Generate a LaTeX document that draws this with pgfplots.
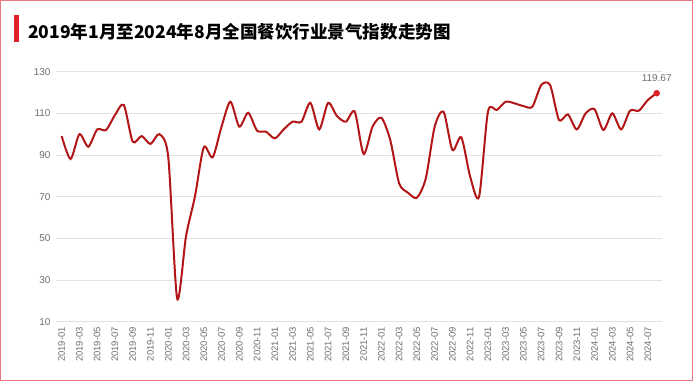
\documentclass[border=0pt]{standalone}
\usepackage{fontspec}
\setmainfont{Liberation Sans}
\newfontfamily\cjk{Noto Sans CJK SC}
\usepackage{pgfplots}
\pgfplotsset{compat=1.18}
\usetikzlibrary{calc}
\definecolor{linered}{RGB}{178,22,22}
\definecolor{barred}{RGB}{222,32,40}
\definecolor{framepink}{RGB}{232,120,130}
\definecolor{ticktext}{RGB}{110,110,110}
\definecolor{gridgray}{RGB}{226,226,226}
\begin{document}
\begin{tikzpicture}[x=1bp,y=1bp]
\begin{axis}[
  width=606bp, height=250bp, scale only axis,
  xmin=-0.64, xmax=67.6, ymin=10, ymax=130,
  ytick={10,30,...,130},
  xtick={0,2,...,66},
  xticklabels={2019-01,2019-03,2019-05,2019-07,2019-09,2019-11,2020-01,2020-03,2020-05,2020-07,2020-09,2020-11,2021-01,2021-03,2021-05,2021-07,2021-09,2021-11,2022-01,2022-03,2022-05,2022-07,2022-09,2022-11,2023-01,2023-03,2023-05,2023-07,2023-09,2023-11,2024-01,2024-03,2024-05,2024-07},
  x tick label style={rotate=90, anchor=east, font=\fontsize{9.5}{10}\selectfont, text=ticktext},
  y tick label style={font=\fontsize{10}{11}\selectfont, text=ticktext},
  /pgf/number format/assume math mode=true,
  ymajorgrids, grid style={gridgray, line width=0.8bp},
  axis line style={draw=none}, major tick style={draw=none},
  xticklabel shift=2bp, yticklabel shift=2bp,
  clip=false,
]
\coordinate (BL) at (rel axis cs:0,0);
\addplot[linered, line width=2bp, smooth, tension=0.45] coordinates {
(0,99.1) (1,88.1) (2,100) (3,94) (4,102.3) (5,102) (6,109.2) (7,114) (8,96.4) (9,99.1)
(10,95.3) (11,100) (12,89) (13,21.2) (14,51) (15,70) (16,93.7) (17,88.9) (18,103.6) (19,115.6)
(20,103.6) (21,110.3) (22,101.7) (23,101.2) (24,98) (25,102.3) (26,106) (27,106) (28,115.1) (29,102.3)
(30,115) (31,108.7) (32,106) (33,110.8) (34,90.5) (35,103.6) (36,107.9) (37,97.2) (38,76.4) (39,71.9)
(40,69.5) (41,78.8) (42,103.6) (43,110.8) (44,92.4) (45,98.5) (46,79.6) (47,70) (48,110.8) (49,111.6)
(50,115.6) (51,114.8) (52,113.5) (53,113.2) (54,123.6) (55,123.6) (56,106.8) (57,109.5) (58,102.3) (59,110)
(60,112) (61,102) (62,110) (63,102.3) (64,111.3) (65,111.3) (66,116.4) (67,119.67)
};
\addplot[only marks, mark=*, mark size=3bp, mark options={fill=barred, draw=barred}] coordinates {(67,119.67)};
\node[anchor=south, text=ticktext, font=\fontsize{10}{11}\selectfont, yshift=8bp] at (axis cs:67,119.67) {119.67};
\end{axis}
\pgfresetboundingbox
\coordinate (O) at ($(BL)+(-56,-59.3)$);
\path[use as bounding box] (O) rectangle ++(693,381);
\draw[framepink, line width=1.2bp] ($(O)+(0.6,0.6)$) rectangle ($(O)+(692.4,380.4)$);
\fill[barred] ($(O)+(14,339)$) rectangle ($(O)+(19.5,366)$);
\node[anchor=base west, inner sep=0pt, font=\cjk\bfseries\fontsize{17.6}{20}\selectfont] at ($(O)+(28,343)$) {2019年1月至2024年8月全国餐饮行业景气指数走势图};
\end{tikzpicture}
\end{document}
